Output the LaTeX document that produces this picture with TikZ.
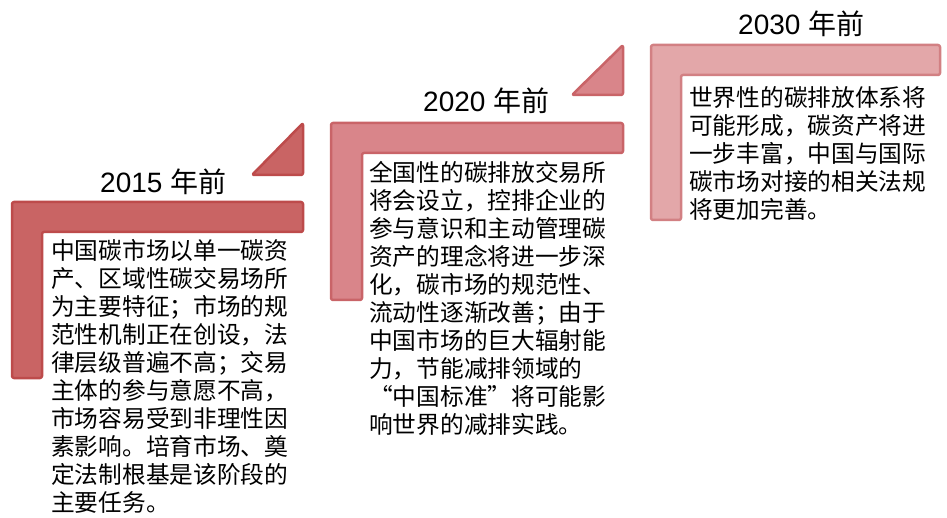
\documentclass[tikz,border=0pt]{standalone}
\usepackage{fontspec}
\setmainfont{Liberation Sans}
\newfontfamily\cjk{Noto Sans CJK SC}
\definecolor{fillA}{HTML}{C96464}
\definecolor{lineA}{HTML}{BD4B4B}
\definecolor{fillB}{HTML}{D9858A}
\definecolor{lineB}{HTML}{C96468}
\definecolor{fillC}{HTML}{E3A7A9}
\definecolor{lineC}{HTML}{D28083}
\tikzset{
  stepA/.style={fill=fillA,draw=lineA,line width=2.5pt,rounded corners=2pt,line join=round},
  stepB/.style={fill=fillB,draw=lineB,line width=2.5pt,rounded corners=2pt,line join=round},
  stepC/.style={fill=fillC,draw=lineC,line width=2.5pt,rounded corners=2pt,line join=round},
  yeartitle/.style={anchor=base west,inner sep=0pt,font=\fontsize{28}{30}\selectfont},
  bodytext/.style={anchor=north west,inner sep=0pt,align=left,font=\cjk\fontsize{23.7}{28}\selectfont}
}
\newcommand{\myopenq}{\makebox[1em][r]{“}}
\newcommand{\mycloseq}{\makebox[1em][l]{”}}
\begin{document}
\begin{tikzpicture}[x=1pt,y=-1pt]
\useasboundingbox (0,0) rectangle (947,518);
% step 1
\draw[stepA] (12,202) -- (303,202) -- (303,232) -- (42,232) -- (42,378) -- (12,378) -- cycle;
\draw[stepA] (303,123) -- (303,175) -- (252,175) -- cycle;
% step 2
\draw[stepB] (331,123) -- (623,123) -- (623,153) -- (362,153) -- (362,300) -- (331,300) -- cycle;
\draw[stepB] (623,45) -- (623,95) -- (572,95) -- cycle;
% step 3
\draw[stepC] (651,45) -- (940,45) -- (940,75) -- (681,75) -- (681,220) -- (651,220) -- cycle;

\node[yeartitle] (t1) at (100,193) {2015 {\cjk 年前}};
\node[yeartitle] (t2) at (423,112) {2020 {\cjk 年前}};
\node[yeartitle] (t3) at (738,35) {2030 {\cjk 年前}};

\node[bodytext] (b1) at (51,239) {中国碳市场以单一碳资\\产、区域性碳交易场所\\为主要特征；市场的规\\范性机制正在创设，法\\律层级普遍不高；交易\\主体的参与意愿不高，\\市场容易受到非理性因\\素影响。培育市场、奠\\定法制根基是该阶段的\\主要任务。};
\node[bodytext] (b2) at (369,161) {全国性的碳排放交易所\\将会设立，控排企业的\\参与意识和主动管理碳\\资产的理念将进一步深\\化，碳市场的规范性、\\流动性逐渐改善；由于\\中国市场的巨大辐射能\\力，节能减排领域的\\\myopenq 中国标准\mycloseq 将可能影\\响世界的减排实践。};
\node[bodytext] (b3) at (689,86) {世界性的碳排放体系将\\可能形成，碳资产将进\\一步丰富，中国与国际\\碳市场对接的相关法规\\将更加完善。};
\end{tikzpicture}
\end{document}
